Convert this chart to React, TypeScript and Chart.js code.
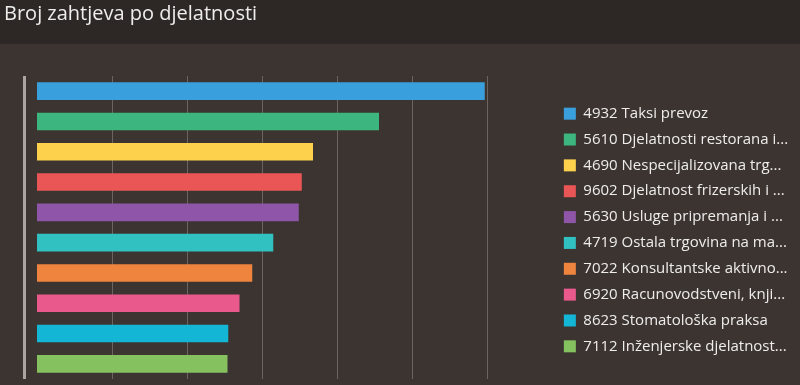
import React, { useEffect, useRef } from 'react';
import { Chart, registerables } from 'chart.js';

Chart.register(...registerables);

const categories = [
  '4932 Taksi prevoz',
  '5610 Djelatnosti restorana i...',
  '4690 Nespecijalizovana trg...',
  '9602 Djelatnost frizerskih i ...',
  '5630 Usluge pripremanja i ...',
  '4719 Ostala trgovina na ma...',
  '7022 Konsultantske aktivno...',
  '6920 Racunovodstveni, knji...',
  '8623 Stomatološka praksa',
  '7112 Inženjerske djelatnost...',
];

const requestCounts = [597, 456, 368, 353, 349, 315, 287, 270, 255, 254];

const barColors = [
  '#3a9fdd',
  '#3cb67e',
  '#fdd14b',
  '#ea5656',
  '#8e55a8',
  '#31c1c0',
  '#ef843f',
  '#e9598c',
  '#14b6d6',
  '#86c160',
];

const gridValues = [100, 200, 300, 400, 500, 600];

const titleText = 'Broj zahtjeva po djelatnosti';

const X_MIN = -44;
const X_MAX = 688;
const AXIS_VALUE = -17.33;

const HEADER_BG = '#2d2826';
const BODY_BG = '#3c3431';
const GRID_COLOR = '#6b6461';
const AXIS_COLOR = '#aaa5a3';
const TEXT_COLOR = '#eeedec';

const backgroundPlugin = {
  id: 'bgPaint',
  beforeDraw(chart: any) {
    const { ctx, width, height } = chart;
    ctx.save();
    ctx.fillStyle = BODY_BG;
    ctx.fillRect(0, 0, width, height);
    ctx.fillStyle = HEADER_BG;
    ctx.fillRect(0, 0, width, 44);
    ctx.restore();
  },
};

const isAxisTick = (c: any) => c.tick && Math.abs(c.tick.value - AXIS_VALUE) < 1e-6;

export default function App() {
  const canvasRef = useRef<HTMLCanvasElement | null>(null);

  useEffect(() => {
    document.body.style.margin = '0';
    const canvas = canvasRef.current;
    if (!canvas) return;
    const chart = new Chart(canvas, {
      type: 'bar',
      data: {
        labels: categories,
        datasets: [
          {
            data: requestCounts,
            backgroundColor: barColors,
            borderWidth: 0,
            barPercentage: 0.58,
            categoryPercentage: 1.0,
          },
        ],
      },
      plugins: [backgroundPlugin],
      options: {
        indexAxis: 'y',
        animation: false,
        responsive: false,
        devicePixelRatio: 1,
        layout: { padding: { left: 4, right: 10, top: 0, bottom: 6 } },
        scales: {
          x: {
            type: 'linear',
            min: X_MIN,
            max: X_MAX,
            ticks: { display: false },
            afterBuildTicks: (s: any) => {
              s.ticks = [AXIS_VALUE, ...gridValues].map((v) => ({ value: v }));
            },
            border: { display: false },
            grid: {
              drawTicks: false,
              color: (c: any) => (isAxisTick(c) ? AXIS_COLOR : GRID_COLOR),
              lineWidth: (c: any) => (isAxisTick(c) ? 3 : 1),
            },
          },
          y: {
            type: 'category',
            display: false,
          },
        },
        plugins: {
          title: {
            display: true,
            text: titleText,
            align: 'start',
            color: TEXT_COLOR,
            font: { family: '"Open Sans", sans-serif', size: 20, weight: 'normal', lineHeight: 1.2 },
            padding: { top: 2.5, bottom: 49.5 },
          },
          legend: {
            display: true,
            position: 'right',
            align: 'center',
            fullSize: false,
            maxWidth: 237,
            title: { display: true, text: '', padding: 0, font: { size: 5, lineHeight: 1 } },
            labels: {
              color: TEXT_COLOR,
              boxWidth: 12,
              boxHeight: 12,
              padding: 10.85,
              font: { family: '"Open Sans", sans-serif', size: 15 },
              generateLabels: () =>
                categories.map((t, i) => ({
                  text: t,
                  fillStyle: barColors[i],
                  strokeStyle: barColors[i],
                  fontColor: TEXT_COLOR,
                  lineWidth: 0,
                  hidden: false,
                  index: i,
                  datasetIndex: 0,
                })),
            },
          },
          tooltip: { enabled: false },
        },
      },
    });
    return () => chart.destroy();
  }, []);

  return (
    <div style={{ width: 800, height: 385 }}>
      <canvas ref={canvasRef} width={800} height={385} style={{ display: 'block' }} />
    </div>
  );
}
